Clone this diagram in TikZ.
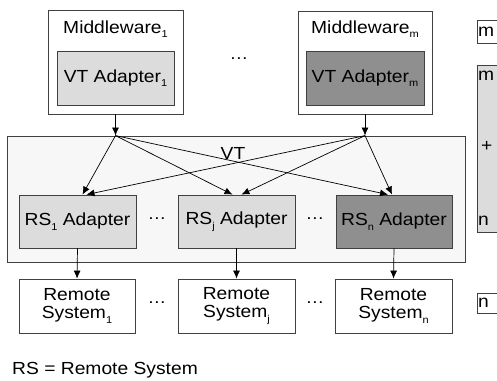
\documentclass[tikz,border=0pt]{standalone}
\usepackage{fontspec}
\setmainfont{Liberation Sans}[FakeStretch=1.1]
\usetikzlibrary{arrows.meta,calc}
\definecolor{lgray}{HTML}{DCDCDC}
\definecolor{dgray}{HTML}{8F8F8F}
\definecolor{vtfill}{HTML}{F7F7F7}
\definecolor{edge}{HTML}{404040}
\newcommand{\subx}[1]{\raisebox{-0.5ex}{\fontsize{10}{12}\selectfont #1}}
\begin{document}
\begin{tikzpicture}[x=1pt,y=-1pt,
  every node/.style={font=\fontsize{17.5}{19.5}\selectfont, inner sep=0pt},
  box/.style={draw=edge, line width=0.8pt, rectangle},
  wbox/.style={box, fill=white},
  lbox/.style={box, fill=lgray},
  dbox/.style={box, fill=dgray},
  arr/.style={-{Latex[length=8pt,width=7pt]}, line width=0.7pt, black},
  dots/.style={font=\fontsize{17}{19}\selectfont}]
\useasboundingbox (0,0) rectangle (497,380);
% Middleware boxes
\node[wbox, minimum width=135pt, minimum height=104pt] (mw1) at (115.5,62) {};
\node (mw1l) at (115.5,29) {Middleware\subx{1}};
\node[lbox, minimum width=117pt, minimum height=54pt] (vta1) at (115.5,78) {VT Adapter\subx{1}};
\node[wbox, minimum width=134pt, minimum height=103pt] (mwm) at (365,62.5) {};
\node (mwml) at (365,29) {Middleware\subx{m}};
\node[dbox, minimum width=118pt, minimum height=54pt] (vtam) at (365,78) {VT Adapter\subx{m}};
\node[dots] (d0) at (239,59) {\dots};
% VT box
\node[box, fill=vtfill, minimum width=458pt, minimum height=126pt] (vt) at (236,199) {};
\node (vtl) at (233,153) {VT};
% Adapters
\node[lbox, minimum width=117pt, minimum height=53pt] (a1) at (77.5,221.5) {RS\subx{1} Adapter};
\node[lbox, minimum width=117pt, minimum height=53pt] (aj) at (236.5,221.5) {RS\subx{j} Adapter};
\node[dbox, minimum width=116pt, minimum height=53pt] (an) at (394,221.5) {RS\subx{n} Adapter};
\node[dots] (d1) at (157,219) {\dots};
\node[dots] (d2) at (315,219) {\dots};
% Remote systems
\node[wbox, minimum width=116pt, minimum height=54pt, align=center] (r1) at (77,306) {Remote\\[-1pt]System\subx{1}};
\node[wbox, minimum width=117pt, minimum height=54pt, align=center] (rj) at (236.5,306) {Remote\\[-1pt]System\subx{j}};
\node[wbox, minimum width=117pt, minimum height=54pt, align=center] (rn) at (393.5,306) {Remote\\[-1pt]System\subx{n}};
\node[dots] (d3) at (157,303) {\dots};
\node[dots] (d4) at (315,303) {\dots};
% legend
\node[anchor=west] (leg) at (12,370) {RS = Remote System};
% right cropped items
\node[wbox, minimum width=30pt, minimum height=23pt, anchor=north west] (rm) at (477,20) {};
\node[anchor=west] (rmt) at (478,31.5) {m};
\node[lbox, minimum width=30pt, minimum height=167pt, anchor=north west] (rg) at (477,65) {};
\node[anchor=west] (rgm) at (478,76) {m};
\node[anchor=west] (rgp) at (481,146) {+};
\node[anchor=west] (rgn) at (478,221) {n};
\node[wbox, minimum width=30pt, minimum height=20pt, anchor=north west] (rnb) at (477,293) {};
\node[anchor=west] (rnt) at (478,303) {n};
% connectors
\coordinate (p1) at (mw1.south |- vt.north);
\coordinate (pm) at (mwm.south |- vt.north);
\draw[arr] (mw1.south) -- (p1);
\draw[arr] (mwm.south) -- (pm);
\draw[arr] (p1) -- ($(a1.north)+(5,0)$);
\draw[arr] (p1) -- ($(aj.north)+(-4,0)$);
\draw[arr] (p1) -- ($(an.north)+(-6,0)$);
\draw[arr] (pm) -- ($(a1.north)+(9,0)$);
\draw[arr] (pm) -- ($(aj.north)+(5,0)$);
\draw[arr] (pm) -- ($(an.north)+(-2,0)$);
\draw[arr] (a1.south) -- (r1.north);
\draw[arr] (aj.south) -- (rj.north);
\draw[arr] (an.south) -- (rn.north);
\end{tikzpicture}
\end{document}
